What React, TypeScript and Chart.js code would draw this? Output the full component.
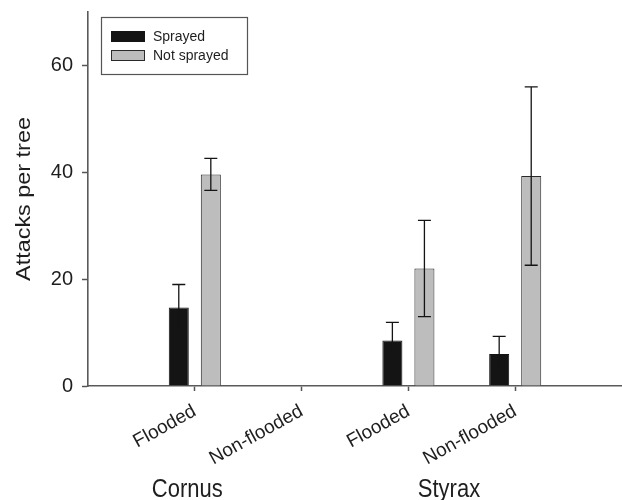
import { useEffect, useRef } from 'react';
import { Chart, registerables } from 'chart.js';

Chart.register(...registerables);

const FONT = "'Liberation Sans', Arial, Helvetica, sans-serif";

// Data
const categories = ['Flooded', 'Non-flooded', 'Flooded', 'Non-flooded'];
const categoryPositions = [1, 2, 3, 4];
const seriesNames = ['Sprayed', 'Not sprayed'];
const sprayed: (number | null)[] = [14.7, null, 8.5, 6.0];
const sprayedErr: (number | null)[] = [4.3, null, 3.4, 3.3];
const notSprayed: (number | null)[] = [39.6, null, 22.0, 39.3];
const notSprayedErr: (number | null)[] = [3.0, null, 9.0, 16.7];
const yTicks = [0, 20, 40, 60];
const yMax = 70;
const xMax = 5;
const groupNames = ['Cornus', 'Styrax'];
const groupCenters = [0.93, 3.38];
const yTitle = 'Attacks per tree';

const seriesColors = ['#141414', '#bdbdbd'];
const seriesBorders = ['#141414', '#2a2a2a'];

const errorBarPlugin = {
  id: 'errorBars',
  afterDatasetsDraw(chart: any) {
    const ctx = chart.ctx;
    const ys = chart.scales.y;
    const sets: [(number | null)[], (number | null)[]][] = [
      [sprayed, sprayedErr],
      [notSprayed, notSprayedErr],
    ];
    ctx.save();
    ctx.strokeStyle = '#141414';
    ctx.lineWidth = 1.3;
    sets.forEach(([vals, errs], d) => {
      const meta = chart.getDatasetMeta(d);
      vals.forEach((v, i) => {
        const e = errs[i];
        if (v == null || e == null) return;
        const el = meta.data[i];
        if (!el) return;
        const x = el.x;
        const top = ys.getPixelForValue(v + e);
        const bot = ys.getPixelForValue(v - e);
        const cap = 6.5;
        ctx.beginPath();
        ctx.moveTo(x, top);
        ctx.lineTo(x, bot);
        ctx.moveTo(x - cap, top);
        ctx.lineTo(x + cap, top);
        ctx.moveTo(x - cap, bot);
        ctx.lineTo(x + cap, bot);
        ctx.stroke();
      });
    });
    ctx.restore();
  },
};

const annotationsPlugin = {
  id: 'annotations',
  afterDraw(chart: any) {
    const ctx = chart.ctx;
    const area = chart.chartArea;
    const xs = chart.scales.x;
    ctx.save();
    ctx.fillStyle = '#1e1e1e';

    // Y axis title (rotated, slightly stretched along its length)
    ctx.save();
    ctx.translate(24, (area.top + area.bottom) / 2);
    ctx.rotate(-Math.PI / 2);
    ctx.scale(1.17, 1);
    ctx.font = `20px ${FONT}`;
    ctx.textAlign = 'center';
    ctx.textBaseline = 'middle';
    ctx.fillText(yTitle, 0, 0);
    ctx.restore();

    // Group labels
    groupNames.forEach((name, i) => {
      ctx.save();
      ctx.translate(xs.getPixelForValue(groupCenters[i]), area.bottom + 111);
      ctx.scale(1, 1.15);
      ctx.font = `22px ${FONT}`;
      ctx.textAlign = 'center';
      ctx.textBaseline = 'alphabetic';
      ctx.fillText(name, 0, 0);
      ctx.restore();
    });

    // Legend box
    const lx = area.left + 13;
    const ly = area.top + 5;
    const lw = 146;
    const lh = 57;
    ctx.fillStyle = '#ffffff';
    ctx.fillRect(lx, ly, lw, lh);
    ctx.strokeStyle = '#555';
    ctx.lineWidth = 1.2;
    ctx.strokeRect(lx + 0.5, ly + 0.5, lw, lh);
    seriesNames.forEach((name, i) => {
      const sy = ly + 14 + i * 19;
      ctx.fillStyle = seriesColors[i];
      ctx.fillRect(lx + 10, sy, 34, 11);
      ctx.strokeStyle = seriesBorders[i];
      ctx.lineWidth = 1;
      ctx.strokeRect(lx + 10.5, sy + 0.5, 33, 10);
      ctx.fillStyle = '#1e1e1e';
      ctx.font = `14px ${FONT}`;
      ctx.textAlign = 'left';
      ctx.textBaseline = 'middle';
      ctx.fillText(name, lx + 52, sy + 6);
    });
    ctx.restore();
  },
};

export default function App() {
  const canvasRef = useRef<HTMLCanvasElement | null>(null);

  useEffect(() => {
    if (!canvasRef.current) return;
    const chart = new Chart(canvasRef.current, {
      type: 'bar',
      data: {
        datasets: [
          {
            label: seriesNames[0],
            data: sprayed.map((v, i) => ({ x: categoryPositions[i], y: v })) as any,
            backgroundColor: seriesColors[0],
            borderColor: seriesBorders[0],
            borderWidth: 1,
            categoryPercentage: 0.6,
            barPercentage: 0.625,
          },
          {
            label: seriesNames[1],
            data: notSprayed.map((v, i) => ({ x: categoryPositions[i], y: v })) as any,
            backgroundColor: seriesColors[1],
            borderColor: seriesBorders[1],
            borderWidth: 1,
            categoryPercentage: 0.6,
            barPercentage: 0.625,
          },
        ],
      },
      options: {
        responsive: false,
        animation: false,
        devicePixelRatio: 1,
        layout: { padding: { top: 12, left: 0, right: 0, bottom: 0 } },
        plugins: {
          legend: { display: false },
          tooltip: { enabled: false },
          title: { display: false },
        },
        scales: {
          x: {
            type: 'linear',
            min: 0,
            max: xMax,
            offset: false,
            afterBuildTicks: (scale: any) => {
              scale.ticks = categoryPositions.map((v) => ({ value: v }));
            },
            afterFit: (scale: any) => {
              scale.height = 114;
              scale.paddingLeft = 0;
              scale.paddingRight = 0;
            },
            grid: {
              display: true,
              offset: false,
              drawOnChartArea: false,
              drawTicks: true,
              tickLength: 5,
              tickColor: '#555',
              tickWidth: 1.5,
            },
            border: { display: true, color: '#5a5a5a', width: 1.6 },
            ticks: {
              autoSkip: false,
              maxRotation: 29,
              minRotation: 29,
              padding: 9,
              color: '#1e1e1e',
              font: { family: FONT, size: 19 },
              callback: (value: any) => {
                const idx = categoryPositions.indexOf(Number(value));
                return idx >= 0 ? categories[idx] : '';
              },
            },
          },
          y: {
            type: 'linear',
            min: 0,
            max: yMax,
            afterBuildTicks: (scale: any) => {
              scale.ticks = yTicks.map((v) => ({ value: v }));
            },
            afterFit: (scale: any) => {
              scale.width = 88;
              scale.paddingTop = 0;
              scale.paddingBottom = 0;
            },
            grid: {
              display: true,
              drawOnChartArea: false,
              drawTicks: true,
              tickLength: 6,
              tickColor: '#555',
              tickWidth: 1.5,
            },
            border: { display: true, color: '#5a5a5a', width: 1.6 },
            ticks: {
              padding: 9,
              color: '#1e1e1e',
              font: { family: FONT, size: 20 },
            },
          },
        },
      } as any,
      plugins: [errorBarPlugin, annotationsPlugin],
    });
    return () => chart.destroy();
  }, []);

  return (
    <div style={{ position: 'absolute', left: 0, top: 0, width: 622, height: 500, background: '#fff' }}>
      <canvas ref={canvasRef} width={622} height={500} style={{ width: 622, height: 500, display: 'block' }} />
    </div>
  );
}
